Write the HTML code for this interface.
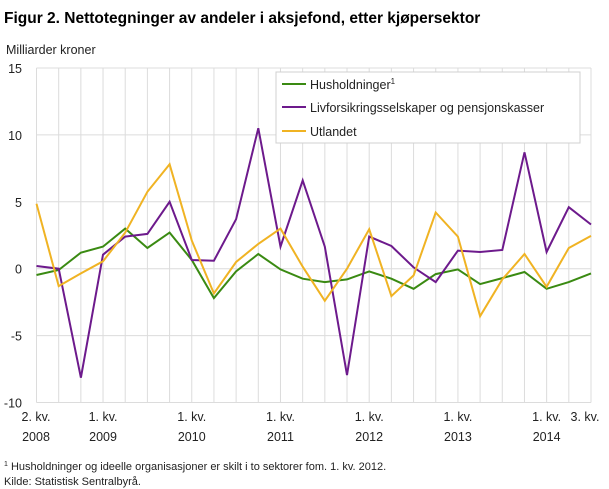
<!DOCTYPE html>
<html><head><meta charset="utf-8"><style>
body{margin:0;background:#fff;}
svg{display:block;font-family:"Liberation Sans","DejaVu Sans",sans-serif;}
</style></head><body>
<svg id="s" width="609" height="489" viewBox="0 0 609 489" xmlns="http://www.w3.org/2000/svg">
<text x="4" y="23" font-size="15.5" font-weight="bold" fill="#000">Figur 2. Nettotegninger av andeler i aksjefond, etter kjøpersektor</text>
<text x="6" y="54" font-size="12.5" fill="#222">Milliarder  kroner</text>
<g id="grid"></g>
<g id="lines"></g>
<rect x="276" y="72" width="304" height="71" fill="#fff" stroke="#d0d0d0"/>
<line x1="282" y1="84" x2="306" y2="84" stroke="#3a8a12" stroke-width="2"/>
<text x="310" y="89" font-size="12.5" fill="#222">Husholdninger<tspan font-size="8" dy="-5">1</tspan></text>
<line x1="282" y1="107" x2="306" y2="107" stroke="#6d1a8c" stroke-width="2"/>
<text x="310" y="112" font-size="12.5" fill="#222">Livforsikringsselskaper og pensjonskasser</text>
<line x1="282" y1="131" x2="306" y2="131" stroke="#f0b323" stroke-width="2"/>
<text x="310" y="136" font-size="12.5" fill="#222">Utlandet</text>
<text x="4" y="470" font-size="11" fill="#222"><tspan font-size="7" dy="-4">1</tspan><tspan dy="4"> Husholdninger og ideelle organisasjoner er skilt i to sektorer fom. 1. kv. 2012.</tspan></text>
<text x="4" y="485" font-size="11" fill="#222">Kilde: Statistisk Sentralbyrå.</text>
</svg>
<script>
const NS="http://www.w3.org/2000/svg";
const X=i=>36.5+i*22.18, Y=v=>268.7-v*13.38;
const g=document.getElementById('grid'), l=document.getElementById('lines');
function el(p,tag,a,t){const e=document.createElementNS(NS,tag);for(const k in a)e.setAttribute(k,a[k]);if(t!==undefined)e.textContent=t;p.appendChild(e);return e;}
for(let i=0;i<=25;i++)el(g,'line',{x1:X(i),x2:X(i),y1:Y(15),y2:Y(-10),stroke:'#dcdcdc','stroke-width':1});
for(let v=-10;v<=15;v+=5){el(g,'line',{x1:X(0),x2:X(25),y1:Y(v),y2:Y(v),stroke:'#dcdcdc','stroke-width':1});
el(g,'text',{x:22,y:Y(v)+5,'font-size':12.5,'text-anchor':'end',fill:'#222'},v);}
const lab=[[0,'2. kv.','2008'],[3,'1. kv.','2009'],[7,'1. kv.','2010'],[11,'1. kv.','2011'],[15,'1. kv.','2012'],[19,'1. kv.','2013'],[23,'1. kv.','2014'],[25,'3. kv.','']];
for(const [i,a,b] of lab){let x=X(i);if(i==25)x=585;if(i==0)x=36;
el(g,'text',{x:x,y:421,'font-size':12.5,'text-anchor':'middle',fill:'#222'},a);
if(b)el(g,'text',{x:x,y:441,'font-size':12.5,'text-anchor':'middle',fill:'#222'},b);}
const G=[-0.47,-0.1,1.2,1.65,3.0,1.55,2.7,0.65,-2.2,-0.2,1.1,-0.05,-0.75,-1.0,-0.8,-0.2,-0.75,-1.5,-0.4,-0.05,-1.15,-0.7,-0.25,-1.5,-1.0,-0.35];
const P=[0.2,0,-8.15,1.05,2.4,2.6,5.0,0.65,0.6,3.7,10.5,1.65,6.6,1.65,-7.95,2.4,1.7,0.1,-1.0,1.35,1.25,1.4,8.7,1.25,4.6,3.3];
const U=[4.85,-1.3,-0.35,0.55,2.7,5.75,7.8,2.1,-1.85,0.5,1.85,3.0,0.15,-2.4,0,2.95,-2.05,-0.5,4.2,2.4,-3.55,-0.8,1.1,-1.35,1.55,2.45];
function line(d,c){el(l,'polyline',{points:d.map((v,i)=>X(i).toFixed(1)+','+Y(v).toFixed(1)).join(' '),fill:'none',stroke:c,'stroke-width':2,'stroke-linejoin':'miter'});}
line(G,'#3a8a12');line(P,'#6d1a8c');line(U,'#f0b323');
</script>
</body></html>
